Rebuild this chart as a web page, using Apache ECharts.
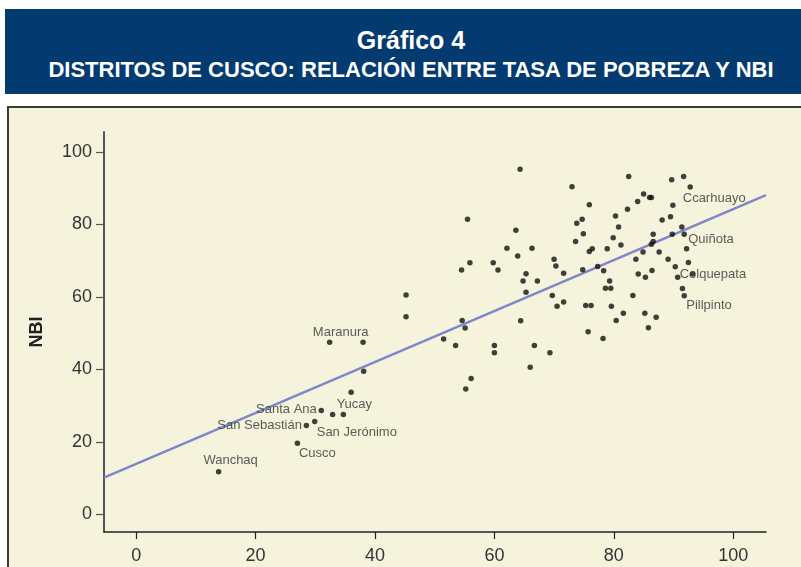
<!DOCTYPE html>
<html>
<head>
<meta charset="utf-8">
<script src="https://cdn.jsdelivr.net/npm/echarts@6/dist/echarts.min.js"></script>
<style>
  html, body { margin: 0; padding: 0; width: 801px; height: 567px; overflow: hidden; background: #fff; }
  .band {
    position: absolute; left: 5px; top: 9px; width: 796px; height: 85px;
    background: #033b70; color: #fff; text-align: center;
    font-family: "Liberation Sans", Arial, sans-serif; font-weight: bold;
  }
  .band .t1 { position: absolute; left: 16px; right: 0; top: 19px; font-size: 25px; line-height: 25px; }
  .band .t2 { position: absolute; left: 16px; right: 0; top: 50px; font-size: 22px; line-height: 22px; }
  .frame {
    position: absolute; left: 7px; top: 106px; width: 800px; height: 470px;
    background: #f5f3dc; border-top: 2px solid #3a3a3a; border-left: 2px solid #3a3a3a;
  }
  #chart { position: absolute; left: 0; top: 0; width: 801px; height: 567px; }
</style>
</head>
<body>
<div class="band">
  <div class="t1">Gráfico 4</div>
  <div class="t2">DISTRITOS DE CUSCO: RELACIÓN ENTRE TASA DE POBREZA Y NBI</div>
</div>
<div class="frame"></div>
<div id="chart"></div>
<script>
// tasa de pobreza (x) y NBI (y) por distrito
const pobreza = [
  13.8, 27.0, 28.5, 29.9, 31.0, 32.9, 34.7, 36.0, 38.1, 32.4, 38.0, 45.2, 45.2,
  64.3, 73.0, 75.9, 55.5, 73.8, 74.7, 63.6, 74.9, 73.6, 62.1, 66.3, 76.4, 75.9,
  63.9, 70.0, 55.9, 59.8, 70.3, 54.5, 60.6, 74.8, 77.3, 65.3, 71.6, 64.8, 67.2,
  65.3, 69.7, 70.5, 71.6, 75.3, 76.2, 54.6, 55.1, 64.4, 75.7, 51.5, 53.5, 60.0,
  60.0, 66.7, 69.3, 66.0, 56.1, 55.2,
  82.5, 89.7, 91.7, 92.8, 85.0, 86.0, 86.3, 84.0, 89.9, 82.3, 80.3, 89.5, 88.1,
  80.8, 91.4, 86.6, 89.8, 91.8, 79.9, 86.6, 86.3, 81.2, 78.9, 84.9, 87.6, 92.2,
  83.7, 89.1, 92.5, 90.3, 78.3, 86.4, 84.1, 85.3, 90.7, 93.2, 79.3, 78.6, 79.5,
  91.5, 91.8, 83.2, 79.6, 81.6, 85.2, 87.1, 80.4, 85.8, 78.2
];
const nbi = [
  11.7, 19.6, 24.5, 25.6, 28.6, 27.5, 27.5, 33.7, 39.5, 47.5, 47.5, 54.5, 60.5,
  95.2, 90.4, 85.4, 81.4, 80.3, 81.4, 78.4, 77.4, 75.3, 73.4, 73.4, 73.3, 72.5,
  71.3, 70.4, 69.4, 69.4, 68.5, 67.4, 67.4, 67.5, 68.4, 66.4, 66.5, 64.4, 64.4,
  61.3, 60.4, 57.4, 58.6, 57.6, 57.6, 53.5, 51.4, 53.4, 50.4, 48.4, 46.6, 46.6,
  44.6, 46.6, 44.6, 40.6, 37.5, 34.6,
  93.2, 92.3, 93.2, 90.3, 88.4, 87.4, 87.4, 86.3, 85.3, 84.2, 82.3, 82.1, 81.2,
  79.3, 79.3, 77.3, 77.3, 77.3, 76.3, 75.3, 74.5, 74.3, 73.3, 72.4, 72.4, 73.3,
  70.4, 70.4, 69.5, 68.3, 67.2, 67.3, 66.3, 65.4, 65.4, 66.3, 64.4, 62.4, 62.4,
  62.3, 60.3, 60.4, 57.4, 55.5, 55.5, 54.4, 53.5, 51.5, 48.5
];
// nombre del distrito (solo los rotulados), mismo orden que arriba
const nombres = [
  'Wanchaq', 'Cusco', 'San Sebastián', 'San Jerónimo', 'Santa Ana', '', 'Yucay', '', '', 'Maranura'
];
nombres[61] = 'Ccarhuayo';
nombres[75] = 'Quiñota';
nombres[92] = 'Colquepata';
nombres[98] = 'Pillpinto';

// recta de ajuste, extremos
const ajusteX = [-5.4, 105.5];
const ajusteY = [10.1, 88.1];

const ticks = [0, 20, 40, 60, 80, 100];

// desplazamiento del rotulo respecto al centro del punto (px) y alineacion
const rotulos = {
  'Wanchaq': [12, -11, 'center'],
  'Cusco': [20, 10, 'center'],
  'San Sebastián': [-4.5, 0, 'right'],
  'San Jerónimo': [2, 11, 'left'],
  'Santa Ana': [-4.5, -1, 'right'],
  'Yucay': [11, -10, 'center'],
  'Maranura': [11, -10, 'center'],
  'Ccarhuayo': [24, 11, 'center'],
  'Quiñota': [4, 5, 'left'],
  'Colquepata': [2, -3, 'left'],
  'Pillpinto': [2, 10, 'left']
};

const tam = 5.5;
const puntos = pobreza.map((x, i) => {
  const n = nombres[i];
  const item = { value: [x, nbi[i]] };
  if (n) {
    const r = rotulos[n];
    item.name = n;
    item.label = {
      show: true,
      formatter: n,
      position: [r[0] + tam / 2, r[1] + tam / 2],
      align: r[2],
      verticalAlign: 'middle'
    };
  }
  return item;
});

const chart = echarts.init(document.getElementById('chart'));
const font = '"Liberation Sans", Arial, sans-serif';

chart.setOption({
  animation: false,
  grid: { left: 104, right: 35, top: 132, bottom: 35 },
  xAxis: {
    type: 'value',
    min: -5.4,
    max: 105.5,
    splitLine: { show: false },
    axisLine: { onZero: false, lineStyle: { color: '#222', width: 1.5 } },
    axisTick: { show: true, length: 7, customValues: ticks, lineStyle: { color: '#222', width: 1.2 } },
    axisLabel: { customValues: ticks, margin: 15, fontSize: 18, color: '#333', fontFamily: font }
  },
  yAxis: {
    type: 'value',
    min: -4.9,
    max: 105.5,
    name: 'NBI',
    nameLocation: 'middle',
    nameGap: 58,
    nameTextStyle: { fontSize: 18, fontWeight: 'bold', color: '#222', fontFamily: font },
    splitLine: { show: false },
    axisLine: { onZero: false, lineStyle: { color: '#555', width: 2 } },
    axisTick: { show: true, length: 8, customValues: ticks, lineStyle: { color: '#555', width: 1.2 } },
    axisLabel: { customValues: ticks, margin: 12, fontSize: 18, color: '#333', fontFamily: font }
  },
  series: [
    {
      type: 'line',
      data: ajusteX.map((x, i) => [x, ajusteY[i]]),
      showSymbol: false,
      silent: true,
      lineStyle: { color: '#7f86cc', width: 2.5 },
      z: 1
    },
    {
      type: 'scatter',
      data: puntos,
      symbolSize: tam,
      itemStyle: { color: '#111' },
      label: { fontSize: 13, color: '#333', fontFamily: font },
      z: 2
    }
  ]
});
</script>
</body>
</html>
